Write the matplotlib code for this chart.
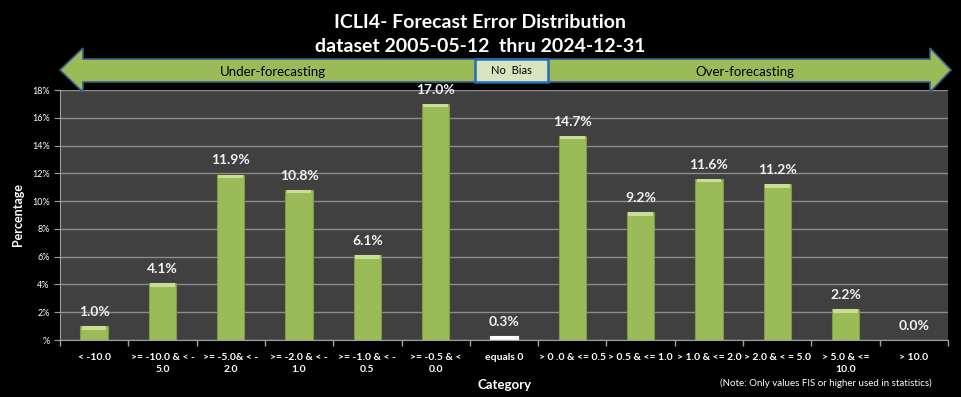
import numpy as np
import matplotlib
matplotlib.use('Agg')
import matplotlib.pyplot as plt
from matplotlib.patches import Polygon, Rectangle

categories = ['< -10.0', '>= -10.0 & < -\n5.0', '>= -5.0& < -\n2.0', '>= -2.0 & < -\n1.0',
              '>= -1.0 & < -\n0.5', '>= -0.5 & <\n0.0', 'equals 0', '> 0 .0 & <= 0.5',
              '> 0.5 & <= 1.0', '> 1.0 & <= 2.0', '> 2.0 & < = 5.0', '> 5.0 & <=\n10.0', '> 10.0']
percent = [1.0, 4.1, 11.9, 10.8, 6.1, 17.0, 0.3, 14.7, 9.2, 11.6, 11.2, 2.2, 0.0]
yticks = [0, 2, 4, 6, 8, 10, 12, 14, 16, 18]
ytick_labels = ['%', '2%', '4%', '6%', '8%', '10%', '12%', '14%', '16%', '18%']

plt.rcParams['font.family'] = ['Lato', 'DejaVu Sans']

W, H = 961, 397
fig = plt.figure(figsize=(W / 100, H / 100), dpi=100, facecolor='black')
ax = fig.add_axes([60 / W, 1 - 340 / H, 888 / W, 250 / H])
ax.set_facecolor('#404040')

x = np.arange(len(categories))
colors = ['#EBF1DE' if c == 'equals 0' else '#9BBB59' for c in categories]
edges = ['#FFFFFF' if c == 'equals 0' else '#7E9A45' for c in categories]
tops = ['#FFFFFF' if c == 'equals 0' else '#C9DE94' for c in categories]
ax.bar(x, percent, width=0.4, color=colors, edgecolor=edges, linewidth=0.8, zorder=3)
# light top highlight
ax.bar(x, [0.25 if p > 0 else 0 for p in percent], bottom=[max(p - 0.25, 0) for p in percent],
       width=0.36, color=tops, linewidth=0, zorder=4)

for xi, p in zip(x, percent):
    ax.text(xi, p + 0.6, '%.1f%%' % p, ha='center', va='bottom', color='#F2F2F2',
            fontsize=10, fontweight='bold')

ax.set_xlim(-0.5, len(categories) - 0.5)
ax.set_ylim(0, 18)
ax.set_yticks(yticks)
ax.set_yticklabels(ytick_labels)
ax.yaxis.grid(True, color='#8C8C8C', linewidth=1)
ax.set_axisbelow(True)

ax.set_xticks(x)
ax.set_xticklabels(categories, fontsize=7.5, fontweight='bold', color='white', linespacing=1.45)
ax.set_xticks(np.arange(len(categories) + 1) - 0.5, minor=True)
ax.tick_params(axis='x', which='major', length=0, pad=9)
ax.tick_params(axis='x', which='minor', length=4, color='#A0A0A0', width=1)
ax.tick_params(axis='y', labelsize=6.5, labelcolor='white', length=4, color='#A0A0A0')

for s in ['top', 'right']:
    ax.spines[s].set_visible(False)
for s in ['left', 'bottom']:
    ax.spines[s].set_color('#A0A0A0')

ax.set_ylabel('Percentage', color='white', fontsize=9, fontweight='bold', labelpad=6)
fig.text(505 / W, 1 - 385 / H, 'Category', ha='center', va='center', color='white',
         fontsize=9.5, fontweight='bold')
fig.text(826 / W, 1 - 383 / H, '(Note: Only values FIS or higher used in statistics)',
         ha='center', va='center', color='white', fontsize=7)

fig.text(0.5, 1 - 22 / H, 'ICLI4- Forecast Error Distribution', ha='center', va='center',
         color='white', fontsize=14, fontweight='bold')
fig.text(0.5, 1 - 47 / H, 'dataset 2005-05-12  thru 2024-12-31', ha='center', va='center',
         color='white', fontsize=14, fontweight='bold')

# double arrow banner (pixel coords -> figure fraction)
def fp(px, py):
    return (px / W, 1 - py / H)

arrow_pts = [fp(60, 70), fp(83, 48), fp(83, 59), fp(930, 59), fp(930, 48), fp(951, 70),
             fp(930, 92), fp(930, 82), fp(83, 82), fp(83, 92)]
fig.patches.append(Polygon(arrow_pts, closed=True, transform=fig.transFigure,
                           facecolor='#9BBB59', edgecolor='#385D8A', linewidth=1.2, zorder=5))
fig.patches.append(Rectangle(fp(475, 82), 73 / W, 23 / H, transform=fig.transFigure,
                             facecolor='#D7E4BD', edgecolor='#1F6FB4', linewidth=1.8, zorder=6))
fig.text(511 / W, 1 - 71 / H, 'No  Bias', ha='center', va='center', color='black',
         fontsize=8, zorder=7)
fig.text(273 / W, 1 - 72 / H, 'Under-forecasting', ha='center', va='center', color='black',
         fontsize=9.5, zorder=7)
fig.text(745 / W, 1 - 72 / H, 'Over-forecasting', ha='center', va='center', color='black',
         fontsize=9.5, zorder=7)

fig.savefig('out.png', dpi=100, facecolor='black')
